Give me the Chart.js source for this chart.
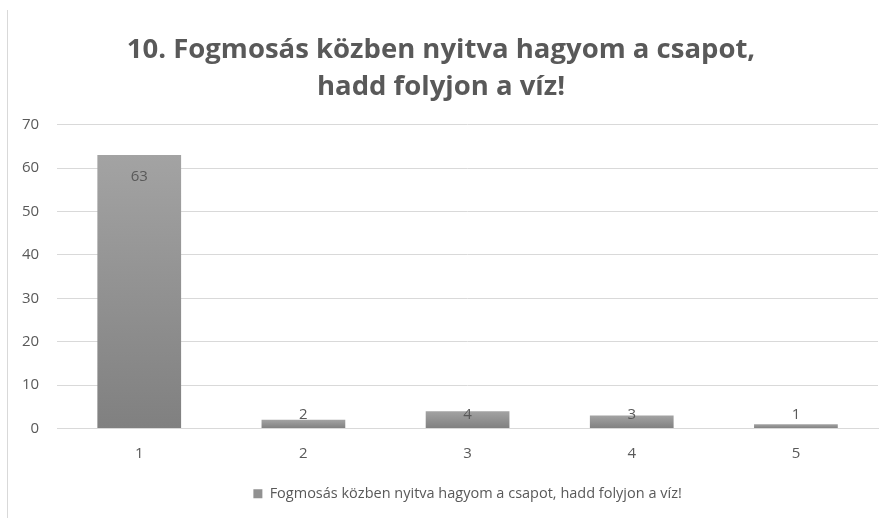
<!DOCTYPE html>
<html>
<head>
<meta charset="utf-8">
<script src="https://cdn.jsdelivr.net/npm/chart.js@4"></script>
<style>
    body { margin: 0; background: #fff; }
    #wrap { position: relative; width: 890px; height: 518px; }
    #edge { position: absolute; left: 7px; top: 10px; width: 1px; height: 508px; background: #d9d9d9; }
    canvas { position: absolute; left: 0; top: 0; }
</style>
</head>
<body>
<div id="wrap">
    <div id="edge"></div>
    <canvas id="chart" width="890" height="518"></canvas>
</div>
<script>
// --- data ---
const categories = ['1', '2', '3', '4', '5'];
const values = [63, 2, 4, 3, 1];
const seriesName = 'Fogmosás közben nyitva hagyom a csapot, hadd folyjon a víz!';
const titleLines = ['10. Fogmosás közben nyitva hagyom a csapot,', 'hadd folyjon a víz!'];

const TEXT = '#595959';
const FONT = "'Open Sans', sans-serif";

// gradient per bar, lighter on top
function barFill(ctx) {
    const chart = ctx.chart;
    const y = chart.scales.y;
    if (!y || ctx.type !== 'data') return '#959595';
    const top = y.getPixelForValue(ctx.raw);
    const bottom = y.getPixelForValue(0);
    if (!isFinite(top) || bottom - top < 1) return '#959595';
    const g = chart.ctx.createLinearGradient(0, top, 0, bottom);
    g.addColorStop(0, '#a3a3a3');
    g.addColorStop(1, '#808080');
    return g;
}

// value labels: big bar inside end, small ones just above
const valueLabels = {
    id: 'valueLabels',
    afterDatasetsDraw(chart) {
        const { ctx } = chart;
        const y = chart.scales.y;
        const meta = chart.getDatasetMeta(0);
        ctx.save();
        ctx.font = '15px ' + FONT;
        ctx.fillStyle = TEXT;
        ctx.textAlign = 'center';
        ctx.textBaseline = 'middle';
        meta.data.forEach((bar, i) => {
            const v = values[i];
            const ty = v > 10 ? bar.y + 22 : y.getPixelForValue(3.2);
            ctx.fillText(String(v), bar.x, ty);
        });
        ctx.restore();
    }
};

new Chart(document.getElementById('chart'), {
    type: 'bar',
    data: {
        labels: categories,
        datasets: [{
            label: seriesName,
            data: values,
            backgroundColor: barFill,
            barPercentage: 0.51,
            categoryPercentage: 1,
        }]
    },
    options: {
        responsive: false,
        animation: false,
        layout: { padding: { left: 4, right: 12, top: 32, bottom: 7 } },
        plugins: {
            title: {
                display: true,
                text: titleLines,
                color: TEXT,
                font: { family: FONT, size: 27.5, weight: 'bold', lineHeight: 1.34 },
                padding: { top: 0, bottom: 19 }
            },
            legend: {
                position: 'bottom',
                fullSize: false,
                labels: {
                    color: TEXT,
                    font: { family: FONT, size: 14.5 },
                    boxWidth: 9,
                    boxHeight: 9,
                    padding: 16,
                    generateLabels: () => [{
                        text: seriesName,
                        fillStyle: '#919191',
                        strokeStyle: '#919191',
                        lineWidth: 0,
                        fontColor: TEXT,
                    }]
                }
            },
            tooltip: { enabled: false }
        },
        scales: {
            x: {
                grid: { display: false },
                border: { color: '#d9d9d9' },
                ticks: { color: TEXT, font: { family: FONT, size: 15 }, padding: 8 }
            },
            y: {
                min: 0,
                max: 70,
                ticks: { stepSize: 10, color: TEXT, font: { family: FONT, size: 15 }, padding: 18 },
                grid: { color: '#d9d9d9', drawTicks: false },
                border: { display: false }
            }
        }
    },
    plugins: [valueLabels]
});
</script>
</body>
</html>
